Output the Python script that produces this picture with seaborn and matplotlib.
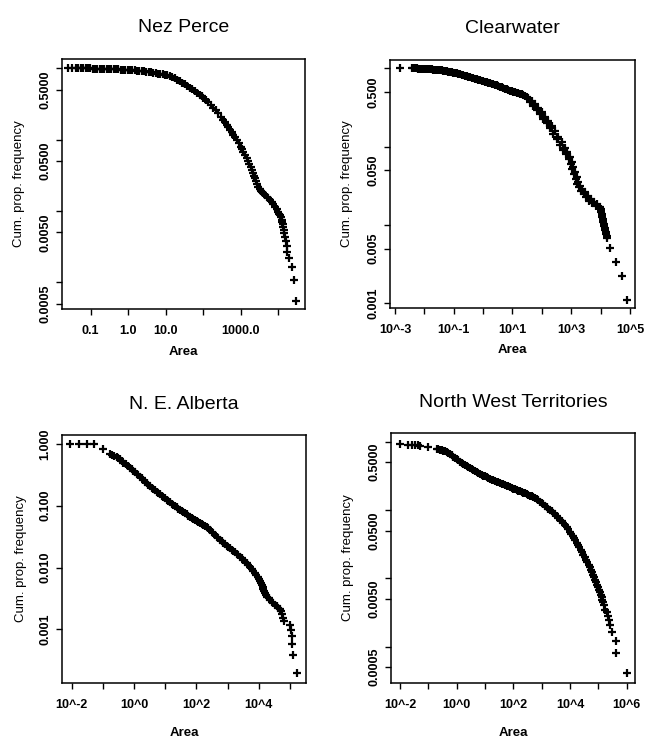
import matplotlib
matplotlib.use('agg')
from matplotlib import pyplot as plt
from matplotlib.ticker import FixedLocator, FixedFormatter, NullLocator
import seaborn as sns
import pandas as pd

# cumulative proportion frequency vs fire area
nez_area = [0.0254, 0.0325, 0.0398, 0.0469, 0.0552, 0.0638, 0.0736, 0.0849, 0.0980, 0.113,
            0.130, 0.151, 0.174, 0.200, 0.231, 0.267, 0.308, 0.356, 0.410, 0.473,
            0.546, 0.630, 0.727, 0.839, 0.968, 1.12, 1.29, 1.49, 1.72, 1.98,
            2.28, 2.64, 3.04, 3.51, 4.05, 4.67, 5.39, 6.22, 7.18, 8.28, 9.55, 11.0,
            13.0, 15.0, 17.7, 20.4, 24.0, 27.7, 32.6, 37.6, 44.4, 51.2,
            60.3, 69.5, 81.8, 90.6, 100.5, 116, 136, 157, 185, 214,
            252, 291, 343, 379, 420, 466, 515, 571, 632, 700, 776, 877, 991,
            1076, 1167, 1294, 1432, 1556, 1687, 1832, 1950, 2113, 2249,
            2389, 2541, 2759, 2931, 3184, 3451, 3748, 3984, 4416, 4888,
            5418, 5998, 6643, 7362, 8151, 9036,
            10000, 10650, 11300, 11780, 12270, 12650, 13030, 13450, 13870, 14460,
            15070, 15700, 16680, 17380, 19630, 22650, 26180, 30200]
nez_freq = [1.0, 1.0, 0.999, 0.998, 0.997, 0.996, 0.995, 0.994, 0.993, 0.991,
            0.989, 0.987, 0.985, 0.983, 0.981, 0.979, 0.976, 0.973, 0.970, 0.967,
            0.963, 0.960, 0.957, 0.953, 0.949, 0.945, 0.940, 0.933, 0.926, 0.919,
            0.912, 0.905, 0.896, 0.887, 0.877, 0.866, 0.855, 0.844, 0.833, 0.822, 0.811, 0.798,
            0.781, 0.756, 0.724, 0.694, 0.664, 0.630, 0.597, 0.565, 0.536, 0.508,
            0.481, 0.451, 0.423, 0.405, 0.388, 0.360, 0.334, 0.306, 0.281, 0.258,
            0.234, 0.210, 0.189, 0.175, 0.161, 0.149, 0.137, 0.127, 0.116, 0.108, 0.0989, 0.0889, 0.0798,
            0.0732, 0.0679, 0.0610, 0.0547, 0.0497, 0.0451, 0.0409, 0.0376, 0.0341, 0.0313,
            0.0287, 0.0264, 0.0239, 0.0219, 0.0206, 0.0193, 0.0183, 0.0177, 0.0168, 0.0159,
            0.0151, 0.0143, 0.0134, 0.0124, 0.0115, 0.0107,
            0.00973, 0.00919, 0.00865, 0.00811, 0.00757, 0.00703, 0.00649, 0.00595, 0.00541, 0.00486,
            0.00432, 0.00378, 0.00324, 0.0027, 0.00216, 0.00162, 0.00108, 0.000541]

clear_area = [0.00148, 0.00369, 0.0048, 0.00624, 0.0081, 0.0105, 0.0137, 0.0177, 0.0230, 0.0299,
              0.0388, 0.0504, 0.0655, 0.0851, 0.110, 0.143, 0.186, 0.242, 0.314, 0.408, 0.530,
              0.689, 0.894, 1.16, 1.51, 1.96, 2.54, 3.30, 4.29, 5.57, 7.23, 9.39, 12.2, 15.8, 20.6,
              26.7, 34.7, 45.1, 58.5, 76.0, 98.7, 128, 166, 216, 281, 365, 473, 615, 738, 910, 1037,
              1183, 1347, 1535, 1750, 1995, 2395, 2954, 3640, 4604, 5980, 7770, 9580, 10080, 10620,
              11190, 11790, 12420, 13430, 14530, 15710, 16560, 20940, 33500, 55100, 77400,
              0.00421, 0.00547, 0.00710, 0.00922, 0.0120, 0.0156, 0.0202, 0.0262, 0.0340, 0.0442,
              0.0574, 0.0746, 0.0969, 0.126, 0.163, 0.212, 0.275, 0.358, 0.465, 0.604,
              0.784, 1.02, 1.32, 1.72, 2.23, 2.90, 3.76, 4.89, 6.34, 8.24, 10.7, 13.9, 18.0, 23.4, 30.5,
              39.5, 51.4, 66.7, 86.6, 112, 146, 190, 246, 320, 416, 540, 665, 820, 960,
              1094, 1246, 1419, 1617, 1844, 2158, 2660, 3275, 4040, 5245, 6810, 8620,
              10350, 10900, 11490, 12100, 12750, 13800, 14930, 16140]
clear_freq = [1.0, 1.0, 1.0, 0.990, 0.990, 0.981, 0.981, 0.971, 0.961, 0.952,
              0.943, 0.925, 0.907, 0.889, 0.872, 0.846, 0.822, 0.806, 0.783, 0.760, 0.738,
              0.717, 0.696, 0.676, 0.656, 0.631, 0.613, 0.595, 0.572, 0.550, 0.529, 0.513, 0.494,
              0.480, 0.466, 0.448, 0.422, 0.387, 0.347, 0.309, 0.274, 0.241, 0.213, 0.185, 0.158,
              0.134, 0.114, 0.097, 0.0863, 0.0745, 0.0644, 0.0555, 0.048, 0.0414, 0.0357, 0.0318,
              0.0288, 0.0261, 0.0237, 0.0215, 0.0199, 0.0184, 0.0171, 0.0160, 0.0145, 0.0132,
              0.0119, 0.0108, 0.0098, 0.00863, 0.00767, 0.00689, 0.00514, 0.00334, 0.00223, 0.00110,
              1.0, 0.995, 0.990, 0.985, 0.981, 0.976, 0.966, 0.956, 0.947, 0.934,
              0.916, 0.898, 0.880, 0.859, 0.834, 0.814, 0.794, 0.771, 0.749, 0.727,
              0.706, 0.686, 0.666, 0.643, 0.622, 0.604, 0.583, 0.561, 0.539, 0.521, 0.503, 0.487, 0.473, 0.457, 0.435,
              0.368, 0.327, 0.291, 0.259, 0.228, 0.199, 0.171, 0.147, 0.124, 0.105, 0.0916, 0.0814, 0.0696, 0.0601,
              0.0519, 0.0448, 0.0387, 0.0337, 0.0303, 0.0274, 0.0249, 0.0225, 0.0205, 0.0191, 0.0177, 0.0166,
              0.0152, 0.0138, 0.0125, 0.0114, 0.0103, 0.00925, 0.00814, 0.00731]

alberta_area = [0.00885, 0.0172, 0.0303, 0.0520, 0.1035, 0.170, 0.201, 0.233, 0.277, 0.313, 0.354,
                0.401, 0.453, 0.538,
                0.655, 0.838, 1.07, 1.37, 1.75, 2.24, 2.87, 3.66, 4.69, 6.00, 7.67, 9.81, 12.5,
                16.0, 20.5, 26.2, 33.6, 42.9, 54.9, 70.2, 89.8, 115, 147, 188, 240, 307, 393, 502,
                643, 822, 1050, 1343, 1718, 2198, 2811, 3595, 4597, 5880, 7520, 9160, 10870, 12300,
                13900, 15730, 18680, 22740, 29080, 37200, 47590, 56500, 60800, 63000, 99500,
                104500, 112500, 118200, 121100, 162800,
                0.741, 0.947, 1.21, 1.55, 1.98, 2.53, 3.24, 4.15, 5.30, 6.78,
                8.67, 11.1, 14.2, 18.1, 23.2, 29.7, 37.9, 48.5, 62.1, 79.4,
                101, 130, 166, 212, 271, 347, 444, 568, 726, 929,
                1188, 1520, 1942, 2484, 3177, 4064, 5200, 6650, 8300, 9860,
                11700, 13240, 14970, 17340, 20600, 25700, 32900, 42100, 51200]
alberta_freq = [1.0, 1.0, 0.999, 0.999, 0.830, 0.689, 0.664, 0.639, 0.624, 0.586, 0.565,
                0.531, 0.499, 0.469,
                0.435, 0.389, 0.348, 0.315, 0.278, 0.245, 0.217, 0.196, 0.178, 0.161, 0.146, 0.132,
                0.119, 0.108, 0.098, 0.0898, 0.0823, 0.0754, 0.0691, 0.0642, 0.0596, 0.0553, 0.0513,
                0.0476, 0.0431, 0.0381, 0.0336, 0.0297, 0.0269, 0.0241, 0.0215, 0.0195, 0.0176,
                0.0160, 0.0141, 0.0124, 0.0110, 0.00946, 0.00805, 0.00711, 0.00605, 0.00521,
                0.00449, 0.00382, 0.00337, 0.00298, 0.00263, 0.00238, 0.00213, 0.00175, 0.00155,
                0.00136, 0.001165, 0.000971, 0.000777, 0.000583, 0.000388, 0.000194,
                0.411, 0.368, 0.331, 0.296, 0.261, 0.231, 0.206, 0.187, 0.169, 0.153,
                0.139, 0.126, 0.114, 0.103, 0.0938, 0.0859, 0.0788, 0.0722, 0.0666, 0.0618,
                0.0574, 0.0533, 0.0494, 0.0453, 0.0405, 0.0358, 0.0316, 0.0283, 0.0254, 0.0227,
                0.0205, 0.0185, 0.0168, 0.0150, 0.0132, 0.0117, 0.0102, 0.00873, 0.00757, 0.00656,
                0.00562, 0.00484, 0.00417, 0.00359, 0.00317, 0.00280, 0.00250, 0.00225, 0.00198]

nwt_area = [0.0100, 0.0197, 0.0272, 0.0338, 0.0420, 0.0522, 0.100, 0.197, 0.258, 0.338, 0.444,
            0.582, 0.763, 1.00, 1.31, 1.72, 2.25, 2.96, 3.88, 5.08, 6.66, 8.73, 11.5, 15.0, 19.7,
            25.8, 33.8, 44.4, 58.2, 76.3, 100, 131, 172, 225, 296, 388, 508, 666, 873, 1145, 1501,
            1968, 2580, 3383, 4435, 5815, 7625, 10000, 12420, 15420, 19150, 23780, 29540, 36710,
            45600, 55100, 66660, 78340, 92240, 105600, 120900, 138400, 158500, 176600, 207800,
            219300, 237800, 258000, 295700, 420700, 420700, 1000000,
            0.225, 0.296, 0.388, 0.508, 0.667, 0.874, 1.15, 1.50, 1.97, 2.58,
            3.38, 4.44, 5.82, 7.63, 10.0, 13.1, 17.2, 22.5, 29.6, 38.8,
            50.8, 66.6, 87.4, 115, 150, 197, 258, 338, 444, 582,
            763, 1000, 1311, 1718, 2253, 2957, 3873, 5080, 6667, 8730,
            11140, 13840, 17180, 21340, 26540, 32960, 40930, 50800, 61400, 72200,
            85000, 100000, 114500, 131000, 150000]
nwt_freq = [0.924, 0.894, 0.884, 0.884, 0.884, 0.874, 0.835, 0.790, 0.764, 0.738, 0.698,
            0.653, 0.603, 0.551, 0.510, 0.471, 0.436, 0.407, 0.380, 0.356, 0.336, 0.318, 0.301,
            0.288, 0.272, 0.260, 0.248, 0.238, 0.227, 0.215, 0.205, 0.196, 0.188, 0.179, 0.171,
            0.162, 0.153, 0.143, 0.132, 0.121, 0.111, 0.100, 0.0904, 0.0817, 0.0722, 0.0638,
            0.0557, 0.0482, 0.0417, 0.0360, 0.0308, 0.0260, 0.0219, 0.0185, 0.0157, 0.0132,
            0.0112, 0.00946, 0.00798, 0.00675, 0.00570, 0.00482, 0.00407, 0.00344, 0.00326,
            0.00285, 0.00244, 0.00204, 0.00163, 0.00122, 0.000814, 0.000407,
            0.777, 0.751, 0.718, 0.675, 0.628, 0.577, 0.530, 0.490, 0.453, 0.421,
            0.394, 0.368, 0.346, 0.327, 0.309, 0.294, 0.279, 0.266, 0.254, 0.243,
            0.232, 0.221, 0.210, 0.201, 0.192, 0.183, 0.175, 0.167, 0.158, 0.148,
            0.138, 0.127, 0.116, 0.105, 0.0951, 0.0859, 0.0767, 0.0679, 0.0597, 0.0519,
            0.0448, 0.0387, 0.0333, 0.0283, 0.0239, 0.0202, 0.0171, 0.0144, 0.0122, 0.0103,
            0.00869, 0.00734, 0.00621, 0.00525, 0.00443]

titles = ["Nez Perce", "Clearwater", "N. E. Alberta", "North West Territories"]

# R-style log axes: ticks at every decade (and 5s), labels only where R had room
nez_xticks = [0.1, 1, 10, 100, 1000, 10000]
nez_xlabels = ["0.1", "1.0", "10.0", "", "1000.0", ""]
nez_yticks = [1, 0.5, 0.1, 0.05, 0.01, 0.005, 0.001, 0.0005]
nez_ylabels = ["", "0.5000", "", "0.0500", "", "0.0050", "", "0.0005"]

clear_xticks = [1e-3, 1e-2, 1e-1, 1, 10, 100, 1e3, 1e4, 1e5]
clear_xlabels = ["10^-3", "", "10^-1", "", "10^1", "", "10^3", "", "10^5"]
clear_yticks = [1, 0.5, 0.1, 0.05, 0.01, 0.005, 0.001]
clear_ylabels = ["", "0.500", "", "0.050", "", "0.005", "0.001"]

alberta_xticks = [1e-2, 1e-1, 1, 10, 100, 1e3, 1e4, 1e5]
alberta_xlabels = ["10^-2", "", "10^0", "", "10^2", "", "10^4", ""]
alberta_yticks = [1, 0.1, 0.01, 0.001]
alberta_ylabels = ["1.000", "0.100", "0.010", "0.001"]

nwt_xticks = [1e-2, 1e-1, 1, 10, 100, 1e3, 1e4, 1e5, 1e6]
nwt_xlabels = ["10^-2", "", "10^0", "", "10^2", "", "10^4", "", "10^6"]
nwt_yticks = [1, 0.5, 0.1, 0.05, 0.01, 0.005, 0.001, 0.0005]
nwt_ylabels = ["", "0.5000", "", "0.0500", "", "0.0050", "", "0.0005"]

sns.set_style("ticks")
plt.rcParams['font.family'] = ['Liberation Sans', 'DejaVu Sans']
plt.rcParams['text.color'] = 'black'
plt.rcParams['axes.labelcolor'] = 'black'

fig = plt.figure(figsize=(6.45, 7.39), dpi=100)
fig.patch.set_facecolor("white")


def draw_panel(rect, title, area, freq, xlim, ylim, xticks, xlabels, yticks, ylabels,
               ylab_x, xlab_y, title_y):
    ax = fig.add_axes(rect)
    df = pd.DataFrame({"Area": area, "freq": freq})
    sns.scatterplot(data=df, x="Area", y="freq", marker="+", color="black",
                    s=36, linewidth=1.6, ax=ax)
    ax.set_xscale("log")
    ax.set_yscale("log")
    ax.set_xlim(xlim)
    ax.set_ylim(ylim)
    ax.xaxis.set_major_locator(FixedLocator(xticks))
    ax.xaxis.set_major_formatter(FixedFormatter(xlabels))
    ax.yaxis.set_major_locator(FixedLocator(yticks))
    ax.yaxis.set_major_formatter(FixedFormatter(ylabels))
    ax.xaxis.set_minor_locator(NullLocator())
    ax.yaxis.set_minor_locator(NullLocator())
    ax.tick_params(direction="out", length=4.5, width=1.0, color="black",
                   labelsize=9, labelcolor="black")
    ax.tick_params(axis="x", pad=7)
    ax.tick_params(axis="y", pad=3)
    for lbl in ax.get_xticklabels() + ax.get_yticklabels():
        lbl.set_fontweight("bold")
    for lbl in ax.get_yticklabels():
        lbl.set_rotation(90)
        lbl.set_va("center")
    for sp in ax.spines.values():
        sp.set_visible(True)
        sp.set_color("black")
        sp.set_linewidth(1.1)
    ax.set_xlabel("Area", fontsize=9.5, fontweight="bold", va="center")
    ax.set_ylabel("Cum. prop. frequency", fontsize=9.5, va="center")
    ax.xaxis.set_label_coords(0.5, xlab_y)
    ax.yaxis.set_label_coords(ylab_x, 0.5)
    ax.text(0.5, title_y, title, transform=ax.transAxes, ha="center", va="center",
            fontsize=14)
    return ax


draw_panel([0.0961, 0.5819, 0.3767, 0.3383], titles[0], nez_area, nez_freq,
           (0.0172, 51400), (0.000423, 1.35), nez_xticks, nez_xlabels,
           nez_yticks, nez_ylabels, -0.177, -0.172, 1.124)
draw_panel([0.6047, 0.5832, 0.3798, 0.3356], titles[1], clear_area, clear_freq,
           (0.000676, 148600), (0.000871, 1.277), clear_xticks, clear_xlabels,
           clear_yticks, clear_ylabels, -0.175, -0.169, 1.129)
draw_panel([0.0961, 0.0758, 0.3783, 0.3356], titles[2], alberta_area, alberta_freq,
           (0.0049, 324000), (0.000135, 1.399), alberta_xticks, alberta_xlabels,
           alberta_yticks, alberta_ylabels, -0.17, -0.2, 1.121)
draw_panel([0.6062, 0.0758, 0.3783, 0.3383], titles[3], nwt_area, nwt_freq,
           (0.00481, 1.97e6), (0.000293, 1.34), nwt_xticks, nwt_xlabels,
           nwt_yticks, nwt_ylabels, -0.175, -0.2, 1.12)

fig.savefig("out.png", dpi=100, facecolor="white")
